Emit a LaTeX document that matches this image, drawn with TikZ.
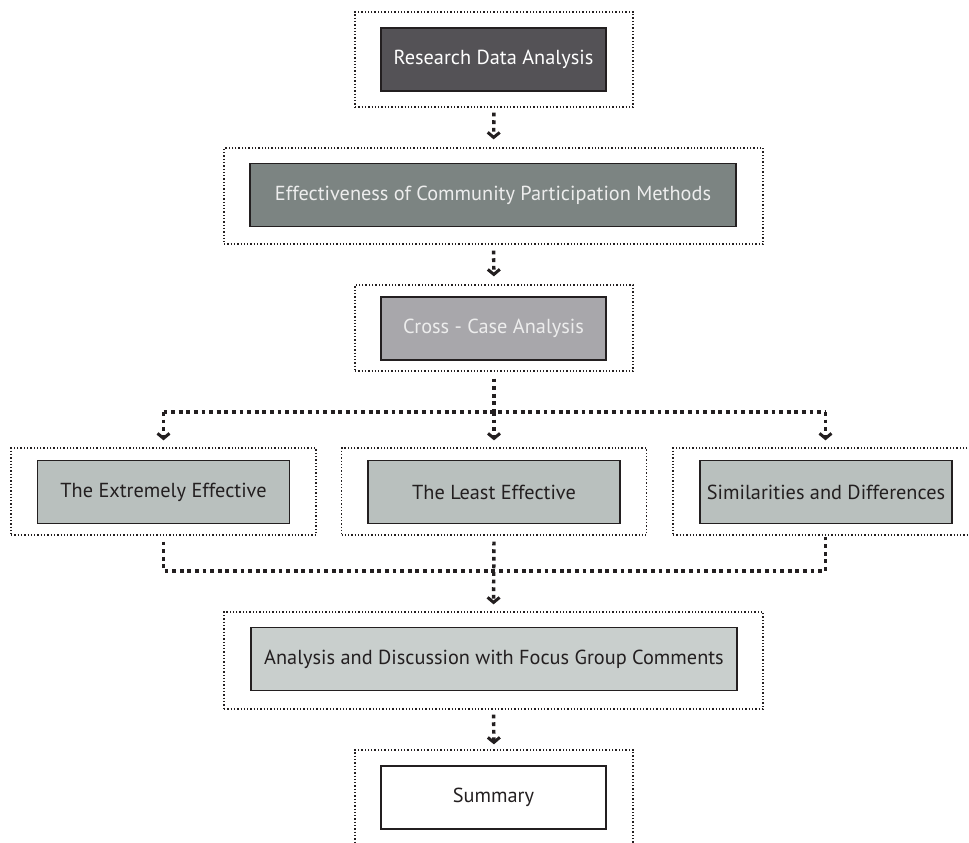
\documentclass[tikz,border=0pt]{standalone}
\usepackage{fontspec}
\setmainfont{PT Sans}
\usetikzlibrary{arrows.meta}
\definecolor{edge}{HTML}{231F20}
\definecolor{fillA}{HTML}{545256}
\definecolor{fillB}{HTML}{7C8482}
\definecolor{fillC}{HTML}{A8A7AB}
\definecolor{fillD}{HTML}{B9C0BE}
\definecolor{fillE}{HTML}{C9CFCD}
\definecolor{txtL}{HTML}{EDEDED}
\tikzset{frm/.style = {draw=edge, line width=1.3pt, dash pattern=on 1.3pt off 2pt, inner sep=0pt},
         bx/.style  = {draw=edge, line width=1.6pt, inner sep=0pt, minimum height=63pt,
                       font=\fontsize{20.3}{22}\selectfont},
         lnk/.style = {draw=edge, line width=3.4pt, dash pattern=on 3.8pt off 3.8pt}}

\begin{document}
\begin{tikzpicture}[x=1pt, y=-1pt, >={Straight Barb[length=5pt, width=12pt, line width=3pt]}]
    \useasboundingbox (0,0) rectangle (969,843);
    % frames
    \node[frm, minimum width=278pt, minimum height=95pt] (f1) at (494,59.5) {};
    \node[frm, minimum width=539pt, minimum height=96pt] (f2) at (493.5,196) {};
    \node[frm, minimum width=278pt, minimum height=86pt] (f3) at (494,328) {};
    \node[frm, minimum width=305pt, minimum height=87pt] (f4a) at (163.5,491.5) {};
    \node[frm, minimum width=305pt, minimum height=87pt] (f4b) at (494,491.5) {};
    \node[frm, minimum width=305pt, minimum height=87pt] (f4c) at (825.5,491.5) {};
    \node[frm, minimum width=539pt, minimum height=97pt] (f5) at (493.5,660.5) {};
    \node[frm, minimum width=278pt, minimum height=95pt] (f6) at (494,797.5) {};
    % boxes
    \node[bx, fill=fillA, text=white, minimum width=225pt] (b1) at (493.5,59.5) {Research Data Analysis};
    \node[bx, fill=fillB, text=txtL, minimum width=486pt] (b2) at (493,195) {Effectiveness of Community Participation Methods};
    \node[bx, fill=fillC, text=txtL, minimum width=225pt] (b3) at (493.5,328.5) {Cross - Case Analysis};
    \node[bx, fill=fillD, text=edge, minimum width=252pt] (b4a) at (163.5,492) {The Extremely Effective};
    \node[bx, fill=fillD, text=edge, minimum width=252pt] (b4b) at (494,492) {The Least Effective};
    \node[bx, fill=fillD, text=edge, minimum width=252pt] (b4c) at (826,492) {Similarities and Differences};
    \node[bx, fill=fillE, text=edge, minimum width=486pt] (b5) at (494,659) {Analysis and Discussion with Focus Group Comments};
    \node[bx, fill=white, text=edge, minimum width=225pt] (b6) at (493.5,797.5) {Summary};
    \coordinate (jt) at (494,412);
    \coordinate (jb) at (494,571);
    % links
    \draw[lnk, ->, shorten <=5pt, shorten >=8pt] (f1.south) -- (f2.north);
    \draw[lnk, ->, shorten <=6pt, shorten >=8pt] (f2.south) -- (f3.north);
    \draw[lnk, shorten <=7pt] (f3.south) -- (jt);
    \draw[lnk] (f4a.north |- jt) -- (f4c.north |- jt);
    \foreach \f in {f4a,f4b,f4c}
      \draw[lnk, ->, shorten >=7pt] (\f.north |- jt) -- (\f.north);
    \draw[lnk, shorten <=6pt] (f4a.south) |- (f4c.south |- jb) -- (f4c.south);
    \draw[lnk, ->, shorten <=6pt, shorten >=7pt] (f4b.south) -- (f5.north);
    \draw[lnk, ->, shorten <=5pt, shorten >=5pt] (f5.south) -- (f6.north);
\end{tikzpicture}
\end{document}
